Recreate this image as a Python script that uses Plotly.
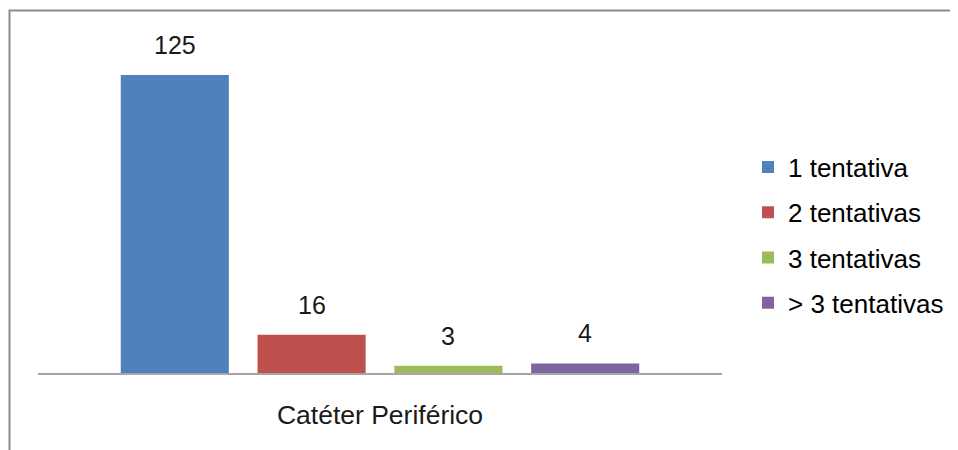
import plotly.graph_objects as go

category = ["Catéter Periférico"]
series_names = ["1 tentativa", "2 tentativas", "3 tentativas", "> 3 tentativas"]
series_values = [125, 16, 3, 4]
colors = ["#4F81BD", "#C0504D", "#9BBB59", "#8064A2"]

BARGAP = 0.2
BARGROUPGAP = 0.21
LABEL_FONT = dict(family="Liberation Sans, Arial", size=25, color="#1a1a1a")
TICK_FONT = dict(family="Liberation Sans, Arial", size=26.5, color="#1a1a1a")

# plot area (figure px)
L, R, T, B = 30, 244, 42, 85
W, H = 958, 450
PW, PH = W - L - R, H - T - B

fig = go.Figure()
n = len(series_names)
annotations = []
for i, (name, val, col) in enumerate(zip(series_names, series_values, colors)):
    fig.add_trace(go.Bar(
        x=category, y=[val], name=name,
        marker=dict(color=col, line=dict(width=0)),
        legendgroup=name,
    ))
    # bar centre in category-axis data units
    xc = 0 + (i - (n - 1) / 2) * (1 - BARGAP) / n
    annotations.append(dict(
        x=xc, y=val, xref="x", yref="y", text=str(val), showarrow=False,
        yanchor="bottom", yshift=14, font=LABEL_FONT,
    ))

fig.update_layout(
    width=W, height=H,
    margin=dict(l=L, r=R, t=T, b=B),
    paper_bgcolor="white", plot_bgcolor="white",
    barmode="group", bargap=BARGAP, bargroupgap=BARGROUPGAP,
    showlegend=True,
    legend=dict(
        x=(740 - L) / PW, y=(H - B - 227) / PH, xanchor="left", yanchor="middle",
        font=dict(family="Liberation Sans, Arial", size=26, color="#000"),
        tracegroupgap=8.5,
    ),
    xaxis=dict(
        showline=True, linecolor="#a6a6a6", linewidth=1.5,
        ticks="", showgrid=False,
        tickfont=TICK_FONT,
        ticklabelstandoff=17,
    ),
    yaxis=dict(range=[0, 135.5], visible=False, showgrid=False),
    annotations=annotations,
    shapes=[dict(
        type="rect", xref="paper", yref="paper",
        x0=(1.5 - L) / PW, x1=(1100 - L) / PW,
        y0=(H - B - 600) / PH, y1=(H - B - 2.5) / PH,
        line=dict(color="#8c8c8c", width=2), fillcolor="rgba(0,0,0,0)", layer="above",
    )],
)

fig.write_html("out.html")
